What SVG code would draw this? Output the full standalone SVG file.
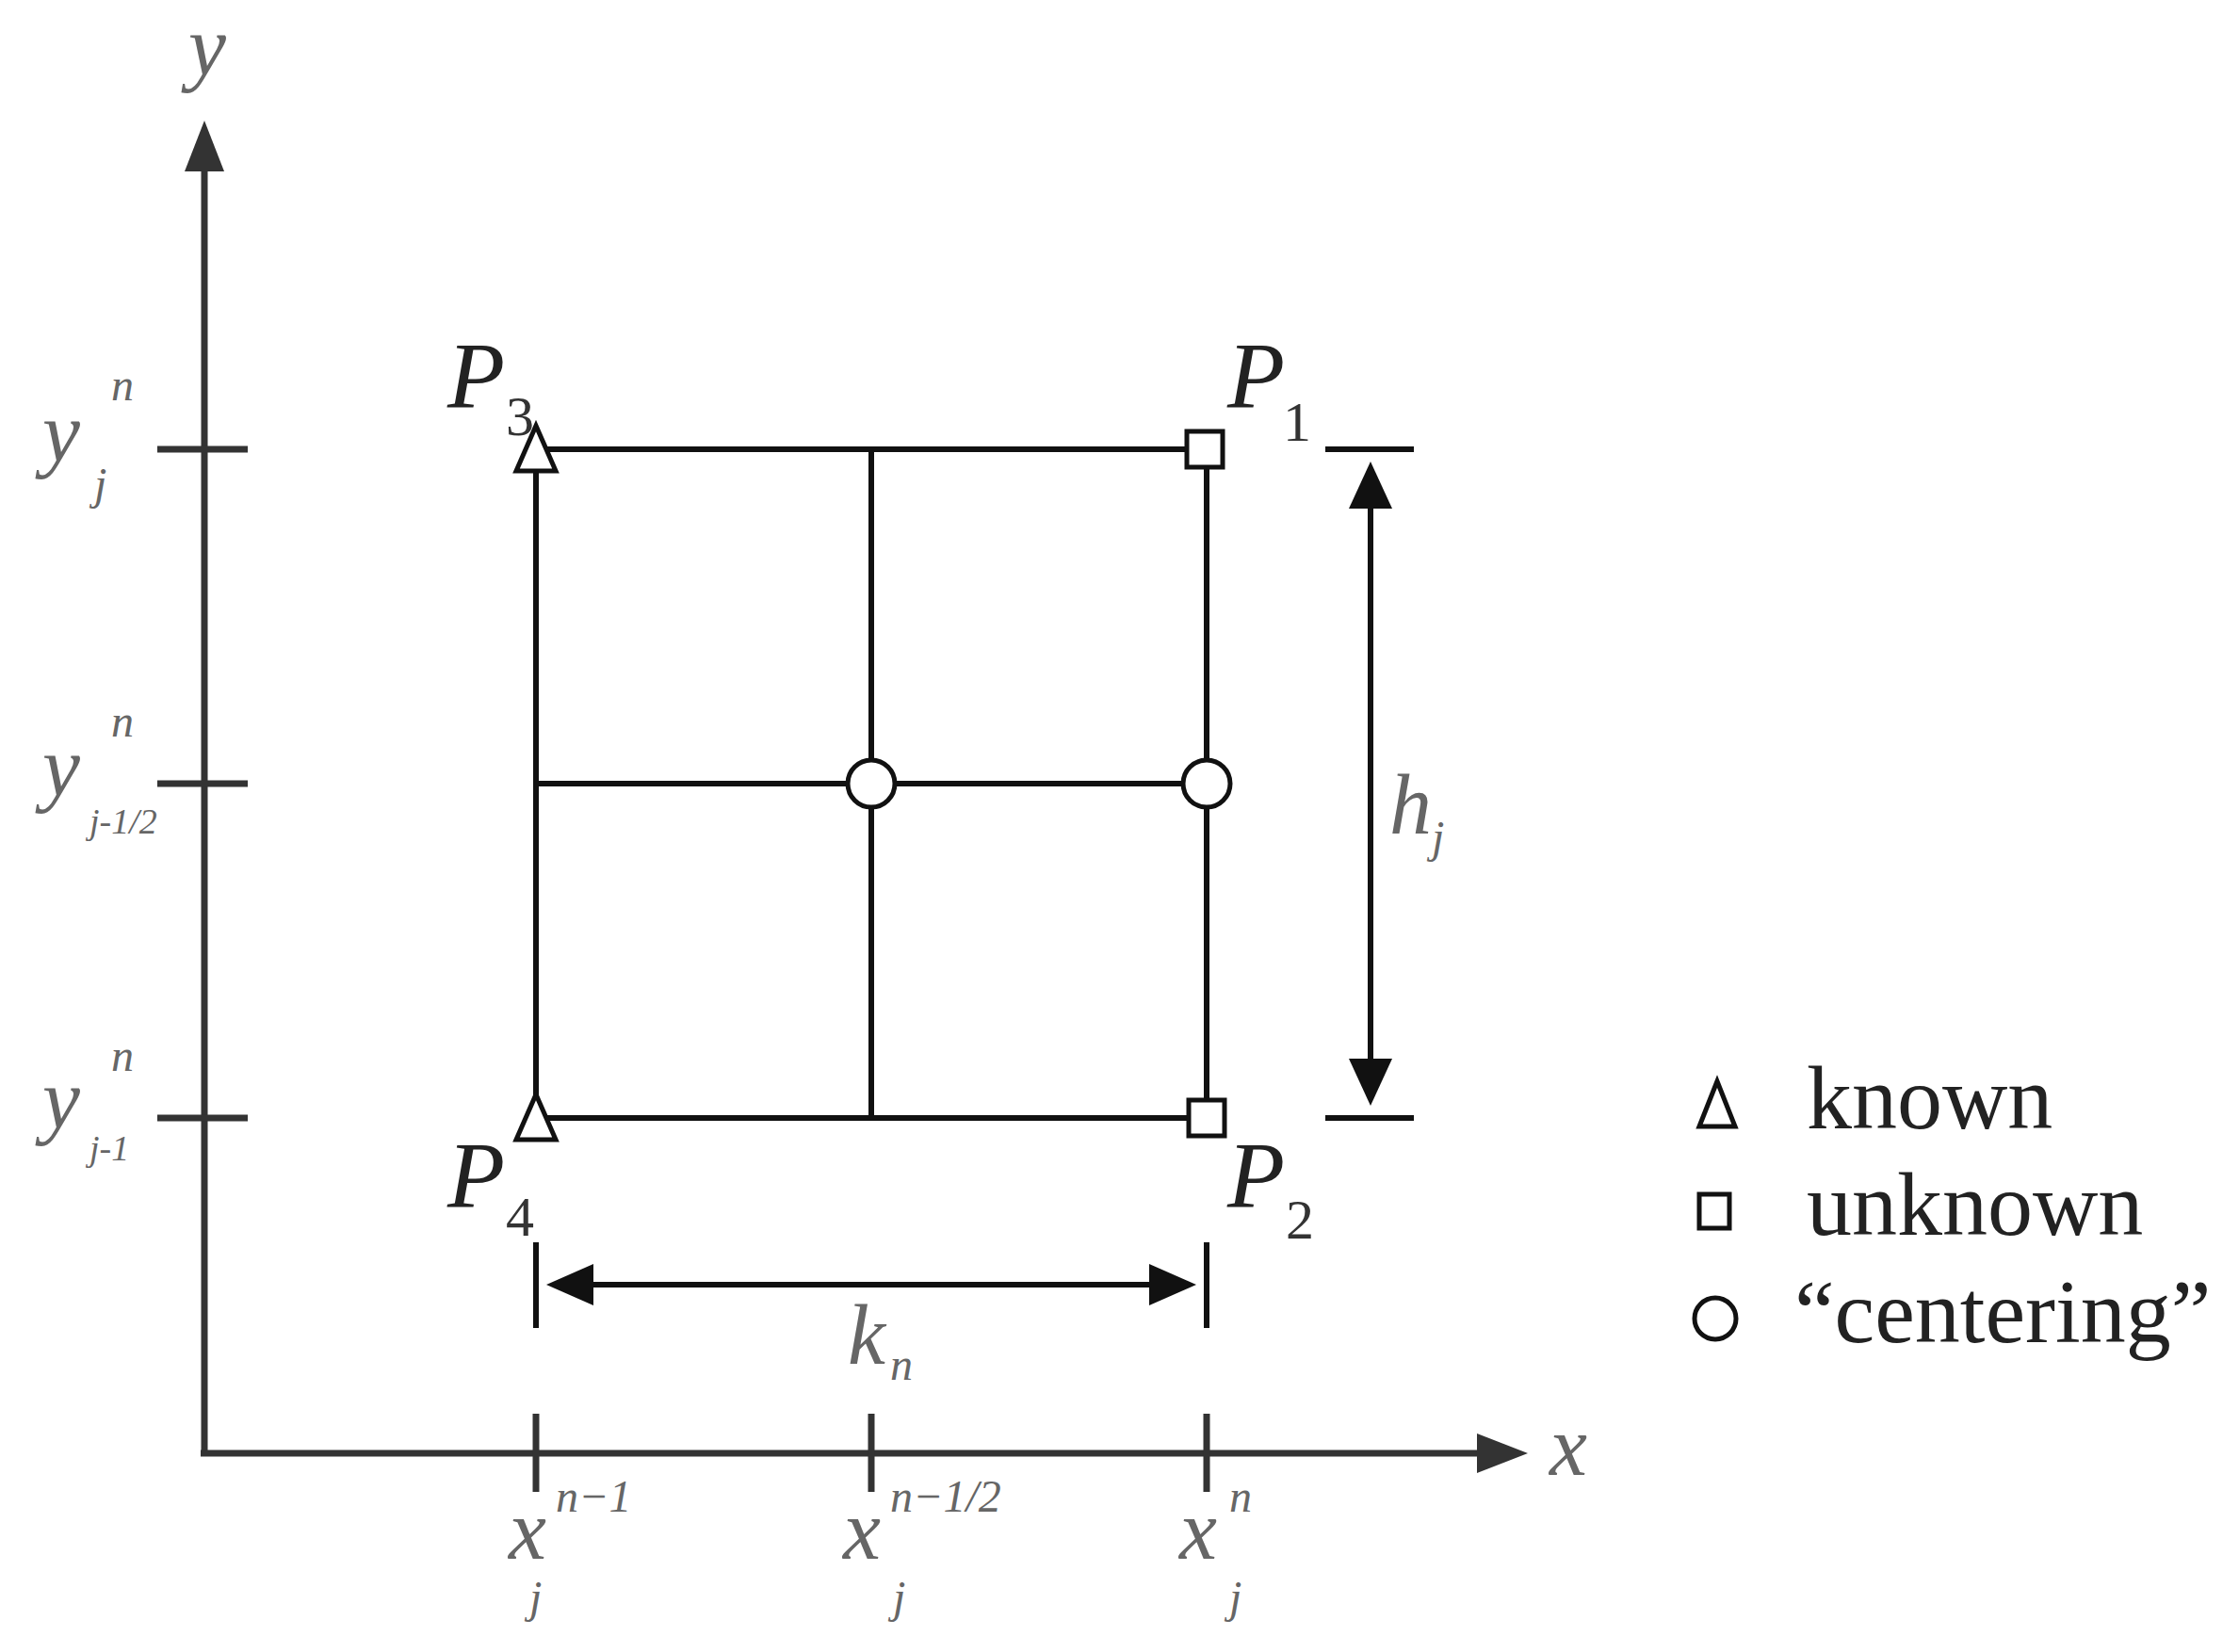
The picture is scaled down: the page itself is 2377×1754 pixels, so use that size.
<svg xmlns="http://www.w3.org/2000/svg" width="2377" height="1754" viewBox="0 0 2377 1754">
<style>
.ax{stroke:#333;stroke-width:7;fill:none}
.gr{stroke:#111;stroke-width:6;fill:none}
.mk{stroke:#111;stroke-width:5;fill:#fff}
.lab{font-family:"Liberation Serif",serif;font-style:italic;fill:#666}
.big{font-size:90px}
.sm{font-size:48px}
.P{font-family:"Liberation Serif",serif;font-style:italic;fill:#222;font-size:100px}
.Ps{font-family:"Liberation Serif",serif;fill:#333;font-size:60px}
.leg{font-family:"Liberation Serif",serif;fill:#222;font-size:96px}
</style>
<rect width="2377" height="1754" fill="#fff"/>
<g id="axes">
<line class="ax" x1="217" y1="1543" x2="217" y2="180"/>
<polygon points="217,128 196,182 238,182" fill="#333"/>
<line class="ax" x1="213" y1="1543" x2="1570" y2="1543"/>
<polygon points="1622,1543 1568,1522 1568,1564" fill="#333"/>
<line class="ax" x1="167" y1="477" x2="263" y2="477"/>
<line class="ax" x1="167" y1="832" x2="263" y2="832"/>
<line class="ax" x1="167" y1="1187" x2="263" y2="1187"/>
<line class="ax" x1="569" y1="1501" x2="569" y2="1584"/>
<line class="ax" x1="925" y1="1501" x2="925" y2="1584"/>
<line class="ax" x1="1281" y1="1501" x2="1281" y2="1584"/>
<text class="lab big" x="200" y="80">y</text>
<text class="lab big" x="1645" y="1566">x</text>
</g>
<g id="ticklabels">
<text class="lab big" x="45" y="490">y</text><text class="lab sm" x="118" y="425">n</text><text class="lab sm" x="100" y="530">j</text>
<text class="lab big" x="45" y="845">y</text><text class="lab sm" x="118" y="782">n</text><text class="lab" font-size="38" x="95" y="885">j-1/2</text>
<text class="lab big" x="45" y="1198">y</text><text class="lab sm" x="118" y="1137">n</text><text class="lab" font-size="38" x="95" y="1232">j-1</text>
<text class="lab big" x="540" y="1655">x</text><text class="lab sm" x="590" y="1605">n−1</text><text class="lab sm" x="562" y="1712">j</text>
<text class="lab big" x="895" y="1655">x</text><text class="lab sm" x="945" y="1605">n−1/2</text><text class="lab sm" x="948" y="1712">j</text>
<text class="lab big" x="1252" y="1655">x</text><text class="lab sm" x="1305" y="1605">n</text><text class="lab sm" x="1305" y="1712">j</text>
</g>
<g id="grid">
<line class="gr" x1="569" y1="477" x2="1281" y2="477"/>
<line class="gr" x1="569" y1="832" x2="1281" y2="832"/>
<line class="gr" x1="569" y1="1187" x2="1281" y2="1187"/>
<line class="gr" x1="569" y1="477" x2="569" y2="1187"/>
<line class="gr" x1="925" y1="477" x2="925" y2="1187"/>
<line class="gr" x1="1281" y1="477" x2="1281" y2="1187"/>
</g>
<g id="P1"><rect class="mk" x="1260" y="458" width="38" height="38"/><text class="P" x="1303" y="432">P</text><text class="Ps" x="1362" y="468">1</text></g>
<g id="P2"><rect class="mk" x="1262" y="1168" width="38" height="38"/><text class="P" x="1303" y="1281">P</text><text class="Ps" x="1365" y="1315">2</text></g>
<g id="P3"><polygon class="mk" points="569,452 548,500 590,500"/><text class="P" x="475" y="432">P</text><text class="Ps" x="537" y="462">3</text></g>
<g id="P4"><polygon class="mk" points="569,1162 548,1210 590,1210"/><text class="P" x="475" y="1281">P</text><text class="Ps" x="537" y="1312">4</text></g>
<g id="C1"><circle class="mk" cx="925" cy="832" r="25"/></g>
<g id="C2"><circle class="mk" cx="1281" cy="832" r="25"/></g>
<g id="dims">
<line class="gr" x1="1407" y1="477" x2="1501" y2="477"/>
<line class="gr" x1="1407" y1="1187" x2="1501" y2="1187"/>
<line class="gr" x1="1455" y1="520" x2="1455" y2="1140"/>
<polygon points="1455,490 1432,540 1478,540" fill="#111"/>
<polygon points="1455,1174 1432,1124 1478,1124" fill="#111"/>
<line class="gr" x1="569" y1="1319" x2="569" y2="1410"/>
<line class="gr" x1="1281" y1="1319" x2="1281" y2="1410"/>
<line class="gr" x1="610" y1="1364" x2="1240" y2="1364"/>
<polygon points="580,1364 630,1342 630,1386" fill="#111"/>
<polygon points="1270,1364 1220,1342 1220,1386" fill="#111"/>
<text class="lab big" x="1475" y="885">h</text><text class="lab sm" x="1520" y="905">j</text>
<text class="lab big" x="900" y="1448">k</text><text class="lab sm" x="945" y="1465">n</text>
</g>
<g id="legend">
<polygon class="mk" points="1823,1148 1804,1196 1842,1196"/>
<text class="leg" x="1918" y="1198">known</text>
<rect class="mk" x="1804" y="1268" width="32" height="36"/>
<text class="leg" x="1918" y="1311">unknown</text>
<circle class="mk" cx="1821" cy="1400" r="22"/>
<text class="leg" x="1905" y="1425">“centering”</text>
</g>
</svg>
